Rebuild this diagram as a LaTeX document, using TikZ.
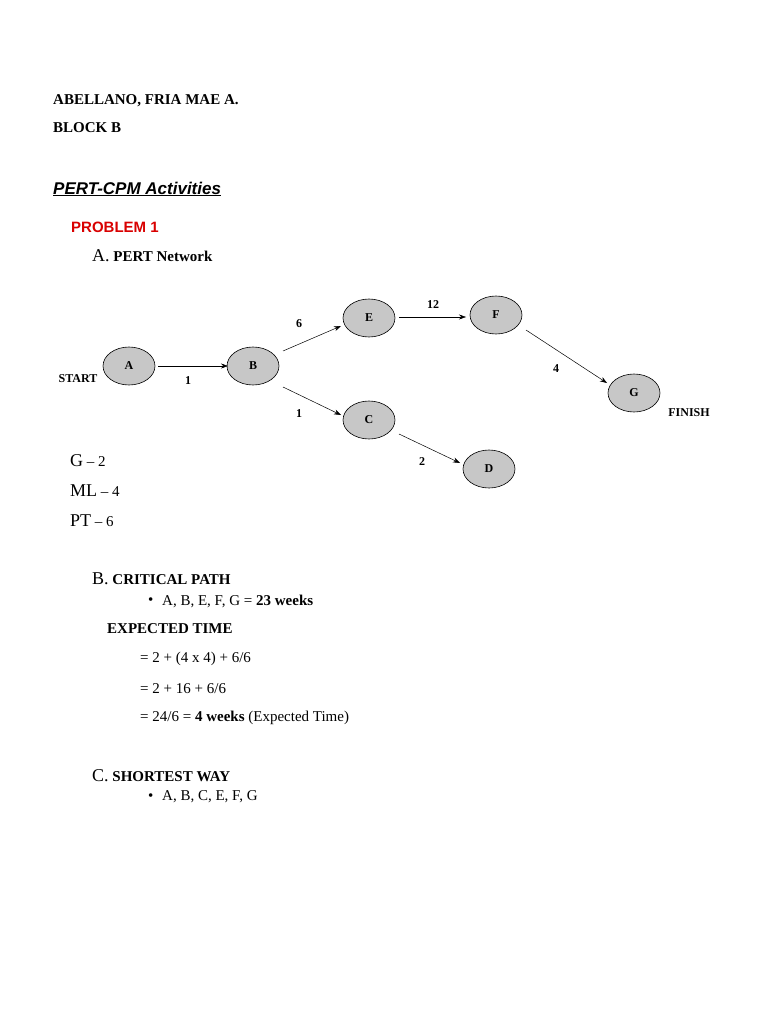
\documentclass[tikz,border=0pt]{standalone}
\usepackage{fontspec}
\setmainfont{Liberation Serif}
\newfontfamily\arialf{Liberation Sans}
\usetikzlibrary{arrows.meta,shapes.geometric}
\begin{document}
\begin{tikzpicture}[x=1pt,y=-1pt,
  nd/.style={ellipse,draw,fill=black!22,line width=0.6pt,minimum width=52pt,minimum height=38pt,inner sep=0pt,font=\fontsize{12}{14}\selectfont\bfseries},
  ar/.style={-{Stealth[length=7pt,width=5pt]},line width=0.5pt},
  lb/.style={font=\fontsize{12}{14}\selectfont\bfseries},
  tx/.style={anchor=west,inner sep=0pt,font=\fontsize{15}{18}\selectfont}]
\useasboundingbox[fill=white] (0,0) rectangle (768,1024);
\node[tx,font=\fontsize{15}{18}\selectfont\bfseries] (t1) at (53,101) {ABELLANO, FRIA MAE A.};
\node[tx,font=\fontsize{15}{18}\selectfont\bfseries] (t2) at (53,128) {BLOCK B};
\node[tx,font=\fontsize{17}{20}\selectfont\arialf\bfseries\itshape] (t3) at (53,189) {\underline{PERT-CPM Activities}};
\node[tx,font=\fontsize{15}{18}\selectfont\arialf\bfseries,text=red!85!black] (t4) at (71,227) {PROBLEM 1};
\node[tx] (t5) at (92,256) {\fontsize{18}{20}\selectfont A.\fontsize{15}{18}\selectfont\bfseries{} PERT Network};
\node[nd] (A) at (129,366) {A};
\node[nd] (B) at (253,366) {B};
\node[nd] (E) at (369,318) {E};
\node[nd] (F) at (496,315) {F};
\node[nd] (C) at (369,420) {C};
\node[nd] (D) at (489,469) {D};
\node[nd] (G) at (634,393) {G};
\coordinate (a1) at (158,366); \coordinate (b1) at (228,366);
\coordinate (b2) at (283,351); \coordinate (e1) at (341,326);
\coordinate (e2) at (399,317); \coordinate (f1) at (466,317);
\coordinate (f2) at (526,330); \coordinate (g1) at (607,383);
\coordinate (b3) at (283,387); \coordinate (c1) at (341,415);
\coordinate (c2) at (399,434); \coordinate (d1) at (460,463);
\draw[ar] (a1) -- (b1);
\draw[ar] (b2) -- (e1);
\draw[ar] (e2) -- (f1);
\draw[ar] (f2) -- (g1);
\draw[ar] (b3) -- (c1);
\draw[ar] (c2) -- (d1);
\node[lb] (l1) at (188,381) {1};
\node[lb] (l2) at (299,324) {6};
\node[lb] (l3) at (433,305) {12};
\node[lb] (l4) at (556,369) {4};
\node[lb] (l5) at (299,414) {1};
\node[lb] (l6) at (422,462) {2};
\node[lb] (st) at (78,379) {START};
\node[lb] (fi) at (689,413) {FINISH};
\node[tx] (g) at (70,461) {\fontsize{18}{20}\selectfont G\fontsize{15}{18}\selectfont{} – 2};
\node[tx] (ml) at (70,491) {\fontsize{18}{20}\selectfont ML\fontsize{15}{18}\selectfont{} – 4};
\node[tx] (pt) at (70,521) {\fontsize{18}{20}\selectfont PT\fontsize{15}{18}\selectfont{} – 6};
\node[tx] (b) at (92,579) {\fontsize{18}{20}\selectfont B.\fontsize{15}{18}\selectfont\bfseries{} CRITICAL PATH};
\node[tx] (bu1) at (148,601) {•};
\node[tx] (cp) at (162,601) {A, B, E, F, G = \textbf{23 weeks}};
\node[tx,font=\fontsize{15}{18}\selectfont\bfseries] (et) at (107,629) {EXPECTED TIME};
\node[tx] (e1t) at (140,659) {= 2 + (4 x 4) + 6/6};
\node[tx] (e2t) at (140,689) {= 2 + 16 + 6/6};
\node[tx] (e3t) at (140,718) {= 24/6 = \textbf{4 weeks} (Expected Time)};
\node[tx] (c) at (92,776) {\fontsize{18}{20}\selectfont C.\fontsize{15}{18}\selectfont\bfseries{} SHORTEST WAY};
\node[tx] (bu2) at (148,797) {•};
\node[tx] (sw) at (162,797) {A, B, C, E, F, G};
\end{tikzpicture}
\end{document}
